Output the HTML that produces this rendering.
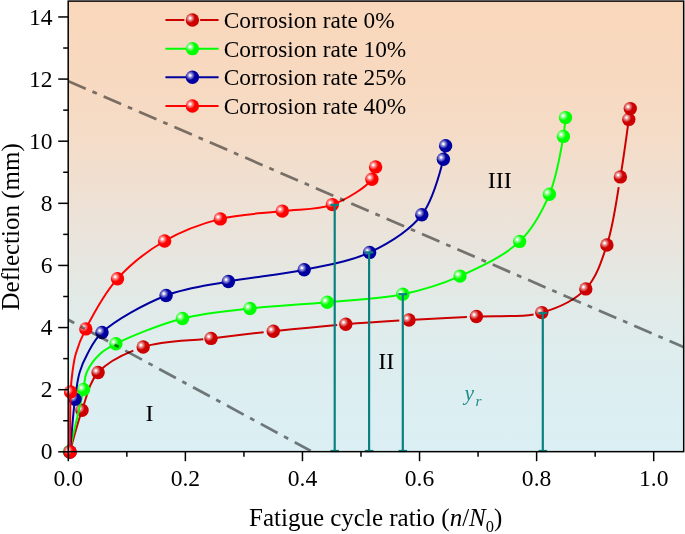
<!DOCTYPE html><html><head><meta charset="utf-8"><style>html,body{margin:0;padding:0;background:#fff;width:685px;height:534px;overflow:hidden}svg{display:block;will-change:transform}text{font-family:"Liberation Serif",serif}</style></head><body>
<svg width="685" height="534" viewBox="0 0 685 534">
<defs>
<linearGradient id="bg" x1="0" y1="0" x2="0" y2="1"><stop offset="0.0000" stop-color="#f9d7bb"/><stop offset="0.2190" stop-color="#f7dac2"/><stop offset="0.3301" stop-color="#f3ddca"/><stop offset="0.4411" stop-color="#eee1d4"/><stop offset="0.5522" stop-color="#e8e5de"/><stop offset="0.6633" stop-color="#e2eae7"/><stop offset="0.7743" stop-color="#deedee"/><stop offset="0.8854" stop-color="#dceef1"/><stop offset="1.0000" stop-color="#dbeff4"/></linearGradient>
<radialGradient id="gc0" cx="0.33" cy="0.36" r="0.36" fx="0.33" fy="0.36"><stop offset="0" stop-color="#ffffff"/><stop offset="0.12" stop-color="#ffffff"/><stop offset="0.35" stop-color="#eda6a6"/><stop offset="0.7" stop-color="#db4d4d"/><stop offset="1" stop-color="#cc0000"/></radialGradient>
<radialGradient id="gc10" cx="0.33" cy="0.36" r="0.36" fx="0.33" fy="0.36"><stop offset="0" stop-color="#ffffff"/><stop offset="0.12" stop-color="#ffffff"/><stop offset="0.35" stop-color="#a6ffa6"/><stop offset="0.7" stop-color="#4dff4d"/><stop offset="1" stop-color="#00ff00"/></radialGradient>
<radialGradient id="gc25" cx="0.33" cy="0.36" r="0.36" fx="0.33" fy="0.36"><stop offset="0" stop-color="#ffffff"/><stop offset="0.12" stop-color="#ffffff"/><stop offset="0.35" stop-color="#a6a6de"/><stop offset="0.7" stop-color="#4d4dbc"/><stop offset="1" stop-color="#0000a0"/></radialGradient>
<radialGradient id="gc40" cx="0.33" cy="0.36" r="0.36" fx="0.33" fy="0.36"><stop offset="0" stop-color="#ffffff"/><stop offset="0.12" stop-color="#ffffff"/><stop offset="0.35" stop-color="#ffa6a6"/><stop offset="0.7" stop-color="#ff4d4d"/><stop offset="1" stop-color="#ff0000"/></radialGradient>
<clipPath id="clip"><rect x="68.2" y="1.1" width="615.5" height="450.55"/></clipPath>
</defs>
<rect x="68.2" y="1.1" width="615.5" height="450.55" fill="url(#bg)"/>
<path d="M69.80,451.70 C73.87,437.90 77.21,423.65 82.00,410.30 C86.68,397.27 88.96,382.73 98.10,372.50 C106.40,363.21 119.52,356.00 133.33,350.57 M143.20,347.00 C160.71,341.19 183.07,341.03 203.34,339.20 M211.00,338.40 C229.00,336.22 245.80,334.20 263.66,332.24 M273.30,331.20 C293.70,329.04 316.15,326.74 337.13,324.93 M345.80,324.20 C364.26,322.70 381.46,321.63 399.32,320.57 M409.00,320.00 C427.98,318.88 447.62,318.02 466.91,317.01 M476.40,316.50 C495.33,315.44 516.00,317.35 533.60,314.41 M541.80,312.60 C558.51,307.85 574.93,300.28 585.80,288.90 C596.53,277.66 601.35,261.63 606.90,245.00 C612.51,228.18 615.61,206.61 618.71,187.16 M620.40,176.90 C623.83,156.97 627.15,130.99 628.80,119.40 C629.52,114.38 629.80,112.20 630.30,108.60" fill="none" stroke="#cc0000" stroke-width="2" stroke-linejoin="round"/>
<circle cx="69.8" cy="451.7" r="6.7" fill="url(#gc0)"/>
<circle cx="82.0" cy="410.3" r="6.7" fill="url(#gc0)"/>
<circle cx="98.1" cy="372.5" r="6.7" fill="url(#gc0)"/>
<circle cx="143.2" cy="347.0" r="6.7" fill="url(#gc0)"/>
<circle cx="211.0" cy="338.4" r="6.7" fill="url(#gc0)"/>
<circle cx="273.3" cy="331.2" r="6.7" fill="url(#gc0)"/>
<circle cx="345.8" cy="324.2" r="6.7" fill="url(#gc0)"/>
<circle cx="409.0" cy="320.0" r="6.7" fill="url(#gc0)"/>
<circle cx="476.4" cy="316.5" r="6.7" fill="url(#gc0)"/>
<circle cx="541.8" cy="312.6" r="6.7" fill="url(#gc0)"/>
<circle cx="585.8" cy="288.9" r="6.7" fill="url(#gc0)"/>
<circle cx="606.9" cy="245.0" r="6.7" fill="url(#gc0)"/>
<circle cx="620.4" cy="176.9" r="6.7" fill="url(#gc0)"/>
<circle cx="628.8" cy="119.4" r="6.7" fill="url(#gc0)"/>
<circle cx="630.3" cy="108.6" r="6.7" fill="url(#gc0)"/>
<path d="M69.30,451.70 C74.03,430.93 80.57,403.65 83.50,389.40 C85.02,382.01 84.24,378.02 86.60,372.50 C89.34,366.08 94.97,358.61 100.20,353.70 C104.88,349.31 108.61,347.44 115.90,343.80 C130.19,336.67 159.90,324.39 182.50,318.50 C204.62,312.73 226.69,311.17 250.00,308.50 C274.85,305.65 301.70,304.60 327.30,302.20 C352.63,299.83 379.60,299.05 402.80,294.20 C423.42,289.89 441.19,284.43 460.00,276.10 C480.16,267.17 504.38,256.07 519.60,241.40 C533.29,228.21 542.13,211.46 549.40,194.30 C556.91,176.56 560.92,150.47 563.40,136.40 C564.80,128.47 564.80,123.87 565.50,117.60" fill="none" stroke="#00ff00" stroke-width="2" stroke-linejoin="round"/>
<circle cx="69.3" cy="451.7" r="6.7" fill="url(#gc10)"/>
<circle cx="83.5" cy="389.4" r="6.7" fill="url(#gc10)"/>
<circle cx="115.9" cy="343.8" r="6.7" fill="url(#gc10)"/>
<circle cx="182.5" cy="318.5" r="6.7" fill="url(#gc10)"/>
<circle cx="250.0" cy="308.5" r="6.7" fill="url(#gc10)"/>
<circle cx="327.3" cy="302.2" r="6.7" fill="url(#gc10)"/>
<circle cx="402.8" cy="294.2" r="6.7" fill="url(#gc10)"/>
<circle cx="460.0" cy="276.1" r="6.7" fill="url(#gc10)"/>
<circle cx="519.6" cy="241.4" r="6.7" fill="url(#gc10)"/>
<circle cx="549.4" cy="194.3" r="6.7" fill="url(#gc10)"/>
<circle cx="563.4" cy="136.4" r="6.7" fill="url(#gc10)"/>
<circle cx="565.5" cy="117.6" r="6.7" fill="url(#gc10)"/>
<path d="M70.00,452.00 C71.67,434.40 73.05,413.80 75.00,399.20 C76.39,388.77 77.26,380.50 79.60,372.50 C81.63,365.56 84.08,359.98 87.50,353.70 C91.34,346.65 94.29,339.64 102.00,332.50 C115.08,320.38 144.22,304.04 166.10,295.50 C186.42,287.56 206.54,285.64 228.40,281.50 C252.36,276.96 279.99,274.87 304.20,269.80 C326.94,265.03 349.80,261.77 369.60,252.40 C388.90,243.26 409.45,230.75 421.80,214.80 C433.68,199.46 440.03,171.64 443.40,159.30 C445.01,153.39 444.87,150.30 445.60,145.80" fill="none" stroke="#0000a0" stroke-width="2" stroke-linejoin="round"/>
<circle cx="70.0" cy="452.0" r="6.7" fill="url(#gc25)"/>
<circle cx="75.0" cy="399.2" r="6.7" fill="url(#gc25)"/>
<circle cx="102.0" cy="332.5" r="6.7" fill="url(#gc25)"/>
<circle cx="166.1" cy="295.5" r="6.7" fill="url(#gc25)"/>
<circle cx="228.4" cy="281.5" r="6.7" fill="url(#gc25)"/>
<circle cx="304.2" cy="269.8" r="6.7" fill="url(#gc25)"/>
<circle cx="369.6" cy="252.4" r="6.7" fill="url(#gc25)"/>
<circle cx="421.8" cy="214.8" r="6.7" fill="url(#gc25)"/>
<circle cx="443.4" cy="159.3" r="6.7" fill="url(#gc25)"/>
<circle cx="445.6" cy="145.8" r="6.7" fill="url(#gc25)"/>
<path d="M70.20,452.00 C70.33,432.00 69.88,406.51 70.60,392.00 C71.01,383.71 71.52,378.92 72.40,372.50 C73.26,366.16 73.90,360.30 75.80,353.70 C78.05,345.90 80.96,338.36 85.80,328.90 C93.02,314.81 104.44,293.31 117.50,278.70 C130.67,263.97 147.43,250.97 164.60,241.00 C181.71,231.06 200.91,223.88 220.30,218.90 C240.10,213.81 262.74,213.60 282.30,211.10 C299.89,208.85 317.25,210.12 332.40,204.60 C347.00,199.28 365.83,187.36 371.90,179.30 C375.09,175.06 374.37,171.03 375.60,166.90" fill="none" stroke="#ff0000" stroke-width="2" stroke-linejoin="round"/>
<circle cx="70.2" cy="452.0" r="6.7" fill="url(#gc40)"/>
<circle cx="70.6" cy="392.0" r="6.7" fill="url(#gc40)"/>
<circle cx="85.8" cy="328.9" r="6.7" fill="url(#gc40)"/>
<circle cx="117.5" cy="278.7" r="6.7" fill="url(#gc40)"/>
<circle cx="164.6" cy="241.0" r="6.7" fill="url(#gc40)"/>
<circle cx="220.3" cy="218.9" r="6.7" fill="url(#gc40)"/>
<circle cx="282.3" cy="211.1" r="6.7" fill="url(#gc40)"/>
<circle cx="332.4" cy="204.6" r="6.7" fill="url(#gc40)"/>
<circle cx="371.9" cy="179.3" r="6.7" fill="url(#gc40)"/>
<circle cx="375.6" cy="166.9" r="6.7" fill="url(#gc40)"/>
<g clip-path="url(#clip)"><line x1="68.3" y1="81.2" x2="683.5" y2="347.0" stroke="#000" stroke-opacity="0.5" stroke-width="2.75" stroke-dasharray="19 7.3 4.8 7.43"/>
<line x1="68.3" y1="319.8" x2="310.8" y2="450.9" stroke="#000" stroke-opacity="0.5" stroke-width="2.75" stroke-dasharray="19 7.3 4.8 7.43" stroke-dashoffset="12.3"/></g>
<line x1="334.7" y1="204.9" x2="334.7" y2="451.2" stroke="#0a8080" stroke-width="2.2"/>
<line x1="330.4" y1="204.9" x2="339.0" y2="204.9" stroke="#0a8080" stroke-width="2.2"/>
<line x1="330.4" y1="451.0" x2="339.0" y2="451.0" stroke="#0a8080" stroke-width="2.2"/>
<line x1="369.1" y1="252.4" x2="369.1" y2="451.2" stroke="#0a8080" stroke-width="2.2"/>
<line x1="364.8" y1="252.4" x2="373.40000000000003" y2="252.4" stroke="#0a8080" stroke-width="2.2"/>
<line x1="364.8" y1="451.0" x2="373.40000000000003" y2="451.0" stroke="#0a8080" stroke-width="2.2"/>
<line x1="402.8" y1="294.2" x2="402.8" y2="451.2" stroke="#0a8080" stroke-width="2.2"/>
<line x1="398.5" y1="294.2" x2="407.1" y2="294.2" stroke="#0a8080" stroke-width="2.2"/>
<line x1="398.5" y1="451.0" x2="407.1" y2="451.0" stroke="#0a8080" stroke-width="2.2"/>
<line x1="542.8" y1="313.0" x2="542.8" y2="451.2" stroke="#0a8080" stroke-width="2.2"/>
<line x1="538.5" y1="313.0" x2="547.0999999999999" y2="313.0" stroke="#0a8080" stroke-width="2.2"/>
<line x1="538.5" y1="451.0" x2="547.0999999999999" y2="451.0" stroke="#0a8080" stroke-width="2.2"/>
<rect x="68.2" y="1.1" width="615.5" height="450.55" fill="none" stroke="#000" stroke-width="1.5"/>
<line x1="58.2" y1="451.80" x2="68.2" y2="451.80" stroke="#000" stroke-width="1.5"/>
<text x="52.6" y="459.40" font-size="23.5" text-anchor="end">0</text>
<line x1="63.2" y1="420.74" x2="68.2" y2="420.74" stroke="#000" stroke-width="1.5"/>
<line x1="58.2" y1="389.68" x2="68.2" y2="389.68" stroke="#000" stroke-width="1.5"/>
<text x="52.6" y="397.28" font-size="23.5" text-anchor="end">2</text>
<line x1="63.2" y1="358.62" x2="68.2" y2="358.62" stroke="#000" stroke-width="1.5"/>
<line x1="58.2" y1="327.56" x2="68.2" y2="327.56" stroke="#000" stroke-width="1.5"/>
<text x="52.6" y="335.16" font-size="23.5" text-anchor="end">4</text>
<line x1="63.2" y1="296.50" x2="68.2" y2="296.50" stroke="#000" stroke-width="1.5"/>
<line x1="58.2" y1="265.44" x2="68.2" y2="265.44" stroke="#000" stroke-width="1.5"/>
<text x="52.6" y="273.04" font-size="23.5" text-anchor="end">6</text>
<line x1="63.2" y1="234.38" x2="68.2" y2="234.38" stroke="#000" stroke-width="1.5"/>
<line x1="58.2" y1="203.32" x2="68.2" y2="203.32" stroke="#000" stroke-width="1.5"/>
<text x="52.6" y="210.92" font-size="23.5" text-anchor="end">8</text>
<line x1="63.2" y1="172.26" x2="68.2" y2="172.26" stroke="#000" stroke-width="1.5"/>
<line x1="58.2" y1="141.20" x2="68.2" y2="141.20" stroke="#000" stroke-width="1.5"/>
<text x="52.6" y="148.80" font-size="23.5" text-anchor="end">10</text>
<line x1="63.2" y1="110.14" x2="68.2" y2="110.14" stroke="#000" stroke-width="1.5"/>
<line x1="58.2" y1="79.08" x2="68.2" y2="79.08" stroke="#000" stroke-width="1.5"/>
<text x="52.6" y="86.68" font-size="23.5" text-anchor="end">12</text>
<line x1="63.2" y1="48.02" x2="68.2" y2="48.02" stroke="#000" stroke-width="1.5"/>
<line x1="58.2" y1="16.96" x2="68.2" y2="16.96" stroke="#000" stroke-width="1.5"/>
<text x="52.6" y="24.56" font-size="23.5" text-anchor="end">14</text>
<line x1="68.30" y1="451.7" x2="68.30" y2="461.2" stroke="#000" stroke-width="1.5"/>
<text x="68.30" y="486.4" font-size="23.6" text-anchor="middle">0.0</text>
<line x1="126.84" y1="451.7" x2="126.84" y2="456.7" stroke="#000" stroke-width="1.5"/>
<line x1="185.38" y1="451.7" x2="185.38" y2="461.2" stroke="#000" stroke-width="1.5"/>
<text x="185.38" y="486.4" font-size="23.6" text-anchor="middle">0.2</text>
<line x1="243.92" y1="451.7" x2="243.92" y2="456.7" stroke="#000" stroke-width="1.5"/>
<line x1="302.46" y1="451.7" x2="302.46" y2="461.2" stroke="#000" stroke-width="1.5"/>
<text x="302.46" y="486.4" font-size="23.6" text-anchor="middle">0.4</text>
<line x1="361.00" y1="451.7" x2="361.00" y2="456.7" stroke="#000" stroke-width="1.5"/>
<line x1="419.54" y1="451.7" x2="419.54" y2="461.2" stroke="#000" stroke-width="1.5"/>
<text x="419.54" y="486.4" font-size="23.6" text-anchor="middle">0.6</text>
<line x1="478.08" y1="451.7" x2="478.08" y2="456.7" stroke="#000" stroke-width="1.5"/>
<line x1="536.62" y1="451.7" x2="536.62" y2="461.2" stroke="#000" stroke-width="1.5"/>
<text x="536.62" y="486.4" font-size="23.6" text-anchor="middle">0.8</text>
<line x1="595.16" y1="451.7" x2="595.16" y2="456.7" stroke="#000" stroke-width="1.5"/>
<line x1="653.70" y1="451.7" x2="653.70" y2="461.2" stroke="#000" stroke-width="1.5"/>
<text x="653.70" y="486.4" font-size="23.6" text-anchor="middle">1.0</text>
<text x="249" y="526.3" font-size="25">Fatigue cycle ratio (<tspan font-style="italic">n</tspan>/<tspan font-style="italic">N</tspan><tspan font-size="16.5" dy="6">0</tspan><tspan dy="-6">)</tspan></text>
<text transform="translate(18.8,310.5) rotate(-90)" font-size="25">Deflection (mm)</text>
<text x="145.6" y="421.2" font-size="24">I</text>
<text x="378.3" y="368.6" font-size="24">II</text>
<text x="487.7" y="187.5" font-size="24">III</text>
<text x="464.5" y="399.8" font-size="21.5" font-style="italic" fill="#1f8b8b">y<tspan font-size="15.5" dx="1.5" dy="6.6">r</tspan></text>
<path d="M166.2,20.00 H183.6 M200.9,20.00 H217.8" stroke="#cc0000" stroke-width="2" stroke-linecap="round"/>
<circle cx="192.4" cy="20.00" r="6.7" fill="url(#gc0)"/>
<text x="223.8" y="28.00" font-size="23.3">Corrosion rate 0%</text>
<line x1="166.2" y1="48.65" x2="217.8" y2="48.65" stroke="#00ff00" stroke-width="2" stroke-linecap="round"/>
<circle cx="192.4" cy="48.65" r="6.7" fill="url(#gc10)"/>
<text x="223.8" y="56.65" font-size="23.3">Corrosion rate 10%</text>
<line x1="166.2" y1="77.30" x2="217.8" y2="77.30" stroke="#0000a0" stroke-width="2" stroke-linecap="round"/>
<circle cx="192.4" cy="77.30" r="6.7" fill="url(#gc25)"/>
<text x="223.8" y="85.30" font-size="23.3">Corrosion rate 25%</text>
<line x1="166.2" y1="105.95" x2="217.8" y2="105.95" stroke="#ff0000" stroke-width="2" stroke-linecap="round"/>
<circle cx="192.4" cy="105.95" r="6.7" fill="url(#gc40)"/>
<text x="223.8" y="113.95" font-size="23.3">Corrosion rate 40%</text>
</svg></body></html>
